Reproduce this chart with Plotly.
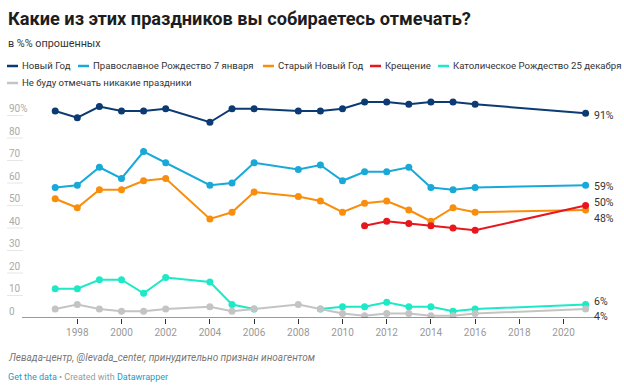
import plotly.graph_objects as go

years = [1997, 1998, 1999, 2000, 2001, 2002, 2004, 2005, 2006, 2008, 2009, 2010,
         2011, 2012, 2013, 2014, 2015, 2016, 2021]

new_year = [92, 89, 94, 92, 92, 93, 87, 93, 93, 92, 92, 93, 96, 96, 95, 96, 96, 95, 91]
orthodox_xmas = [58, 59, 67, 62, 74, 69, 59, 60, 69, 66, 68, 61, 65, 65, 67, 58, 57, 58, 59]
old_new_year = [53, 49, 57, 57, 61, 62, 44, 47, 56, 54, 52, 47, 51, 52, 48, 43, 49, 47, 48]
epiphany = [None, None, None, None, None, None, None, None, None, None, None, None,
            41, 43, 42, 41, 40, 39, 50]
catholic_xmas = [13, 13, 17, 17, 11, 18, 16, 6, 4, None, 4, 5, 5, 7, 5, 5, 3, 4, 6]
none_holidays = [4, 6, 4, 3, 3, 4, 5, 3, 4, 6, 4, 2, 1, 2, 2, 1, 1, 2, 4]

series_names = ["Новый Год", "Православное Рождество 7 января", "Старый Новый Год",
                "Крещение", "Католическое Рождество 25 декабря", "Не буду отмечать никакие праздники"]
series_values = [new_year, orthodox_xmas, old_new_year, epiphany, catholic_xmas, none_holidays]
colors = ["#0b3b72", "#18a9d8", "#f98e0c", "#e8161d", "#1ee9c6", "#c4c4c4"]

x_ticks = [1998, 2000, 2002, 2004, 2006, 2008, 2010, 2012, 2014, 2016, 2018, 2020]
y_grid = [0, 10, 20, 30, 40, 50, 60, 70, 80, 90]

title = "Какие из этих праздников вы собираетесь отмечать?"
subtitle = "в %% опрошенных"
source = "Левада-центр, @levada_center, принудительно признан иноагентом"

W, H = 624, 386
L, R, T, B = 22, 24, 93, 68
PW = W - L - R
PH = H - T - B
FONT = "Roboto, 'Open Sans', sans-serif"


def px(xp):
    return (xp - L) / PW


def py(yp):
    return (H - B - yp) / PH


fig = go.Figure()
for name, vals, col in zip(series_names, series_values, colors):
    fig.add_trace(go.Scatter(
        x=years, y=vals, name=name, mode="lines+markers",
        line=dict(color=col, width=2), marker=dict(color=col, size=7),
        connectgaps=False, showlegend=False, hoverinfo="skip"))

shapes = []
annotations = []

# title / subtitle
annotations.append(dict(text=f"<b>{title}</b>", x=px(6), y=py(18), xref="paper", yref="paper",
                        xanchor="left", yanchor="middle", showarrow=False,
                        font=dict(size=18.2, color="#1d1d1d", family=FONT)))
annotations.append(dict(text=subtitle, x=px(6), y=py(44), xref="paper", yref="paper",
                        xanchor="left", yanchor="middle", showarrow=False,
                        font=dict(size=10.8, color="#333333", family=FONT)))

# custom legend
legend_pos = [(7, 66), (78, 66), (263, 66), (370, 66), (438, 66), (7, 83)]
for (lx, ly), name, col in zip(legend_pos, series_names, colors):
    shapes.append(dict(type="line", xref="paper", yref="paper", x0=px(lx), x1=px(lx + 11),
                       y0=py(ly), y1=py(ly), line=dict(color=col, width=2.5)))
    annotations.append(dict(text=name, x=px(lx + 13), y=py(ly), xref="paper", yref="paper",
                            xanchor="left", yanchor="middle", showarrow=False,
                            font=dict(size=9.6, color="#333333", family=FONT)))

# short gridlines + y labels
for v in y_grid:
    if v > 0:
        shapes.append(dict(type="line", xref="paper", yref="y", x0=px(7), x1=px(23),
                           y0=v, y1=v, line=dict(color="#e6e6e6", width=1)))
    annotations.append(dict(text=f"{v}%" if v == 90 else str(v), x=px(7), y=v, xref="paper", yref="y",
                            xanchor="left", yanchor="middle", yshift=7, showarrow=False,
                            font=dict(size=10, color="#aaaaaa", family=FONT)))

# baseline
shapes.append(dict(type="line", xref="paper", yref="y", x0=0, x1=1, y0=0, y1=0,
                   line=dict(color="#333333", width=1)))

# end labels
end_shifts = [-2, -1, -8, 3, 3, -7]
for vals, s in zip(series_values, end_shifts):
    v = vals[-1]
    annotations.append(dict(text=f"{v}%", x=years[-1], y=v, xref="x", yref="y",
                            xanchor="left", yanchor="middle", xshift=6, yshift=s, showarrow=False,
                            font=dict(size=10.5, color="#333333", family=FONT)))

# footer
annotations.append(dict(text=f"<i>{source}</i>", x=px(6), y=py(357), xref="paper", yref="paper",
                        xanchor="left", yanchor="middle", showarrow=False,
                        font=dict(size=10, color="#777777", family=FONT)))
annotations.append(dict(
    text="<span style='color:#1d9bc6'>Get the data</span> • Created with <span style='color:#1d9bc6'>Datawrapper</span>",
    x=px(6), y=py(377), xref="paper", yref="paper", xanchor="left", yanchor="middle", showarrow=False,
    font=dict(size=9, color="#999999", family=FONT)))

x0 = 1997 - (55.2 - L) / 22.1
fig.update_layout(
    width=W, height=H, margin=dict(l=L, r=R, t=T, b=B),
    paper_bgcolor="white", plot_bgcolor="white",
    font=dict(family=FONT),
    xaxis=dict(range=[x0, x0 + PW / 22.1], tickvals=x_ticks, ticktext=[str(t) for t in x_ticks],
               ticks="outside", ticklen=5, tickcolor="#333333", showgrid=False, zeroline=False,
               showline=False, tickfont=dict(size=10, color="#999999", family=FONT)),
    yaxis=dict(range=[0, 100], showgrid=False, zeroline=False, showticklabels=False, showline=False),
    shapes=shapes, annotations=annotations, showlegend=False,
)
fig.write_html("out.html", config={"displayModeBar": False},
               post_script="document.body.style.margin='0';document.body.style.overflow='hidden';")
